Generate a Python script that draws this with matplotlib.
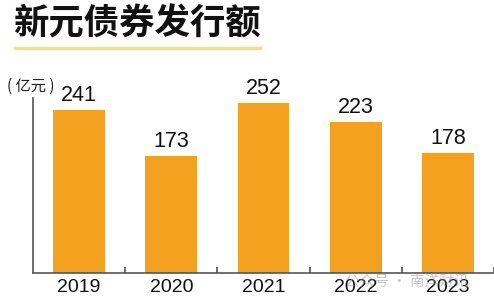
import matplotlib.pyplot as plt

# data
years = ["2019", "2020", "2021", "2022", "2023"]
amounts = [241, 173, 252, 223, 178]

title = "新元债券发行额"
unit = "( 亿元 )"
watermark = "公众号 · 南洋财讯"

bar_color = "#F4A11F"
axis_color = "#555555"

plt.rcParams["font.family"] = ["Noto Sans CJK SC", "DejaVu Sans"]

fig = plt.figure(figsize=(4.94, 2.99), dpi=100)
ax = fig.add_axes([33 / 494, 26 / 299, 461 / 494, 175 / 299])

x = range(len(years))
ax.bar(x, amounts, width=0.56, color=bar_color)

# value labels above bars
for i, v in enumerate(amounts):
    ax.annotate(str(v), (i, v), xytext=(0, 3), textcoords="offset points",
                ha="center", va="bottom", fontsize=15.5,
                family=["Liberation Sans", "DejaVu Sans"],
                color="#111111")

ax.set_xlim(-0.5, len(years) - 0.5)
ax.set_ylim(0, 259)

ax.spines["top"].set_visible(False)
ax.spines["right"].set_visible(False)
for s in ["left", "bottom"]:
    ax.spines[s].set_color(axis_color)
    ax.spines[s].set_linewidth(1.2)

ax.set_yticks([])
ax.set_xticks(list(x))
ax.set_xticklabels(years, fontsize=14, family=["Liberation Sans", "DejaVu Sans"],
                   color="#111111")
ax.tick_params(axis="x", which="major", length=0, pad=4)
ax.set_xticks([i + 0.5 for i in x], minor=True)
ax.tick_params(axis="x", which="minor", direction="in", length=4,
               width=1.2, color=axis_color)

# title and underline
fig.text(13 / 494, 1 - 24 / 299, title, fontsize=25.5, fontweight="heavy",
         va="center", ha="left", color="#111111")
fig.add_artist(plt.Line2D([15 / 494, 260 / 494], [1 - 48 / 299, 1 - 48 / 299],
                          color="#F1DE92", linewidth=2.5))

# unit label
fig.text(7 / 494, 1 - 86 / 299, unit, fontsize=11, va="center", ha="left",
         color="#222222")

# faint watermark
fig.text(345 / 494, 1 - 282 / 299, watermark, fontsize=10.5, va="center",
         ha="left", color="#9a9a9a", alpha=0.55)

fig.savefig("out.png", dpi=100)
